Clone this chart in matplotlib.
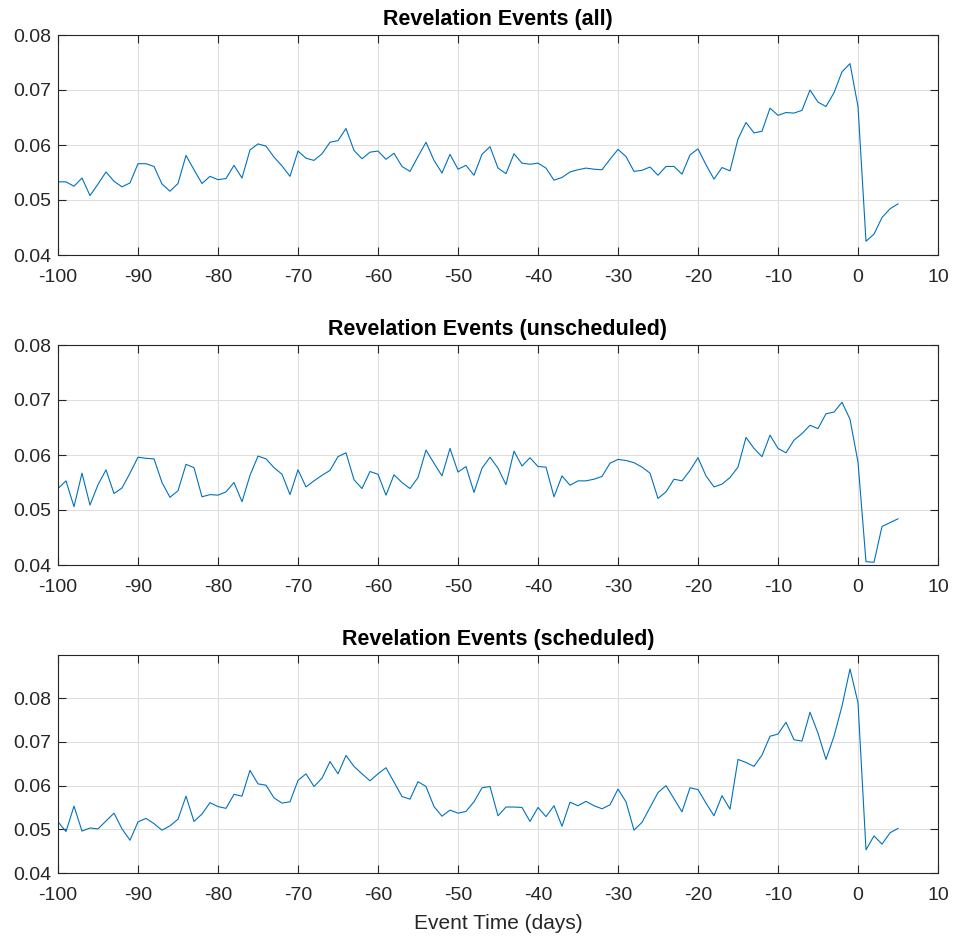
import numpy as np
import matplotlib.pyplot as plt

plt.rcParams['font.family'] = ['Liberation Sans', 'DejaVu Sans']

# event time axis (days relative to the event)
days = np.arange(-100, 6)

rev_all = [
    0.0533, 0.0533, 0.0525, 0.0540, 0.0508, 0.0529, 0.0551, 0.0534, 0.0524, 0.0531,
    0.0566, 0.0566, 0.0561, 0.0529, 0.0516, 0.0530, 0.0581, 0.0555, 0.0530, 0.0543,
    0.0537, 0.0539, 0.0563, 0.0540, 0.0591, 0.0602, 0.0598, 0.0578, 0.0562, 0.0543,
    0.0589, 0.0576, 0.0572, 0.0584, 0.0605, 0.0608, 0.0630, 0.0590, 0.0575, 0.0587,
    0.0589, 0.0574, 0.0585, 0.0561, 0.0552, 0.0579, 0.0605, 0.0572, 0.0549, 0.0583,
    0.0556, 0.0563, 0.0545, 0.0583, 0.0597, 0.0558, 0.0548, 0.0584, 0.0567, 0.0565,
    0.0567, 0.0558, 0.0536, 0.0541, 0.0551, 0.0555, 0.0558, 0.0556, 0.0555, 0.0574,
    0.0592, 0.0579, 0.0552, 0.0554, 0.0560, 0.0545, 0.0561, 0.0561, 0.0547, 0.0582,
    0.0593, 0.0564, 0.0538, 0.0559, 0.0553, 0.0611, 0.0641, 0.0622, 0.0625, 0.0667,
    0.0654, 0.0659, 0.0658, 0.0663, 0.0700, 0.0678, 0.0670, 0.0695, 0.0733, 0.0748,
    0.0670, 0.0425, 0.0438, 0.0468, 0.0484, 0.0493,
]

rev_unsched = [
    0.0539, 0.0553, 0.0506, 0.0567, 0.0509, 0.0546, 0.0573, 0.0530, 0.0540, 0.0567,
    0.0596, 0.0594, 0.0593, 0.0550, 0.0523, 0.0535, 0.0583, 0.0577, 0.0524, 0.0528,
    0.0527, 0.0533, 0.0550, 0.0515, 0.0563, 0.0598, 0.0593, 0.0577, 0.0565, 0.0528,
    0.0573, 0.0542, 0.0553, 0.0563, 0.0572, 0.0597, 0.0604, 0.0555, 0.0539, 0.0570,
    0.0565, 0.0527, 0.0564, 0.0550, 0.0539, 0.0559, 0.0609, 0.0585, 0.0562, 0.0612,
    0.0569, 0.0579, 0.0532, 0.0576, 0.0596, 0.0576, 0.0546, 0.0607, 0.0580, 0.0595,
    0.0579, 0.0578, 0.0524, 0.0562, 0.0545, 0.0553, 0.0553, 0.0556, 0.0561, 0.0585,
    0.0592, 0.0590, 0.0586, 0.0578, 0.0567, 0.0521, 0.0533, 0.0556, 0.0553, 0.0572,
    0.0595, 0.0562, 0.0542, 0.0547, 0.0559, 0.0578, 0.0632, 0.0612, 0.0597, 0.0636,
    0.0612, 0.0604, 0.0627, 0.0639, 0.0654, 0.0648, 0.0675, 0.0678, 0.0696, 0.0665,
    0.0587, 0.0406, 0.0405, 0.0470, 0.0477, 0.0484,
]

rev_sched = [
    0.0517, 0.0495, 0.0553, 0.0496, 0.0503, 0.0501, 0.0519, 0.0537, 0.0501, 0.0475,
    0.0517, 0.0525, 0.0513, 0.0498, 0.0508, 0.0523, 0.0576, 0.0518, 0.0535, 0.0561,
    0.0552, 0.0548, 0.0580, 0.0576, 0.0635, 0.0604, 0.0601, 0.0572, 0.0560, 0.0563,
    0.0612, 0.0627, 0.0598, 0.0617, 0.0655, 0.0627, 0.0669, 0.0644, 0.0627, 0.0611,
    0.0627, 0.0641, 0.0608, 0.0575, 0.0569, 0.0609, 0.0598, 0.0552, 0.0530, 0.0544,
    0.0537, 0.0541, 0.0563, 0.0595, 0.0598, 0.0531, 0.0551, 0.0551, 0.0550, 0.0518,
    0.0550, 0.0529, 0.0554, 0.0507, 0.0562, 0.0554, 0.0564, 0.0554, 0.0547, 0.0556,
    0.0592, 0.0563, 0.0498, 0.0516, 0.0550, 0.0584, 0.0600, 0.0570, 0.0540, 0.0595,
    0.0591, 0.0560, 0.0531, 0.0577, 0.0546, 0.0660, 0.0653, 0.0644, 0.0670, 0.0713,
    0.0718, 0.0745, 0.0705, 0.0702, 0.0768, 0.0720, 0.0660, 0.0713, 0.0782, 0.0867,
    0.0790, 0.0453, 0.0485, 0.0466, 0.0492, 0.0502,
]

titles = ['Revelation Events (all)', 'Revelation Events (unscheduled)',
          'Revelation Events (scheduled)']
series = [rev_all, rev_unsched, rev_sched]
ylims = [(0.04, 0.08), (0.04, 0.08), (0.04, 0.0899)]
xticks = np.arange(-100, 11, 10)
yticks = [0.04, 0.05, 0.06, 0.07, 0.08]

W, H = 956, 939
fig = plt.figure(figsize=(W / 100, H / 100), dpi=100)

# axes boxes in pixels: (left, top, right, bottom)
boxes = [(58, 35, 938, 255), (58, 345, 938, 565), (58, 655, 938, 873)]

axc = '#262626'
for (l, t, r, b), title, y, yl in zip(boxes, titles, series, ylims):
    ax = fig.add_axes([l / W, 1 - b / H, (r - l) / W, (b - t) / H])
    ax.plot(days, y, color='#0072BD', lw=0.8)
    ax.set_xlim(-100, 10)
    ax.set_ylim(*yl)
    ax.set_xticks(xticks)
    ax.set_yticks(yticks)
    ax.set_xticklabels([str(v) for v in xticks])
    ax.set_yticklabels(['%.2f' % v for v in yticks])
    ax.grid(True, color='#dfdfdf', lw=0.8)
    ax.set_axisbelow(True)
    ax.tick_params(direction='in', length=6, width=0.8, colors=axc,
                   labelsize=14, top=True, right=True)
    ax.tick_params(axis='x', pad=10)
    ax.tick_params(axis='y', pad=5)
    for s in ax.spines.values():
        s.set_color(axc)
        s.set_linewidth(0.8)
    ax.set_title(title, fontsize=15.5, fontweight='bold', color='black', pad=7)

ax.set_xlabel('Event Time (days)', fontsize=15, color=axc, labelpad=7)

fig.savefig('out.png', dpi=100)
